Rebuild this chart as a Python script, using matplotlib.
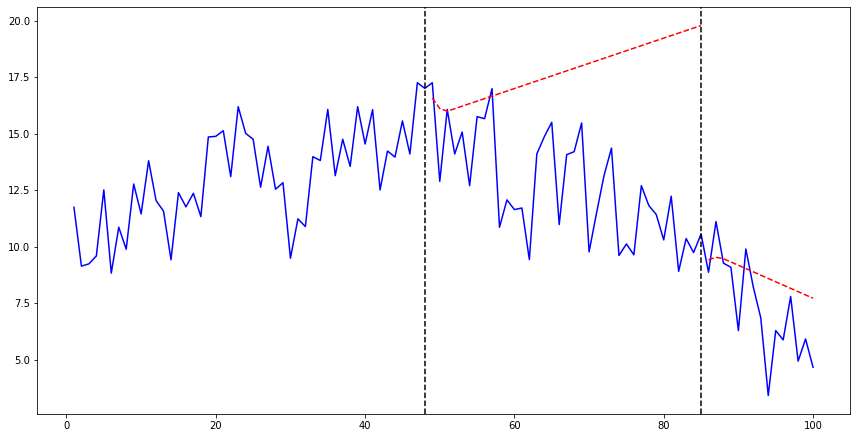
import matplotlib
matplotlib.use('Agg')
import matplotlib.pyplot as plt
from matplotlib.ticker import MultipleLocator

# Series values
x = list(range(1, 101))
y = [11.75, 9.15, 9.25, 9.60, 12.52, 8.84, 10.87, 9.90, 12.78, 11.46,
     13.81, 12.05, 11.58, 9.43, 12.40, 11.77, 12.37, 11.34, 14.86, 14.89,
     15.14, 13.11, 16.20, 15.02, 14.76, 12.64, 14.45, 12.55, 12.84, 9.50,
     11.24, 10.90, 13.99, 13.82, 16.08, 13.15, 14.76, 13.56, 16.20, 14.55,
     16.07, 12.52, 14.24, 13.97, 15.57, 14.11, 17.26, 17.01, 17.26, 12.90,
     16.08, 14.11, 15.08, 12.71, 15.76, 15.67, 17.00, 10.87, 12.08, 11.65,
     11.72, 9.44, 14.11, 14.87, 15.51, 10.99, 14.08, 14.21, 15.48, 9.78,
     11.50, 13.15, 14.37, 9.62, 10.13, 9.65, 12.71, 11.83, 11.43, 10.31,
     12.24, 8.92, 10.37, 9.75, 10.57, 8.88, 11.12, 9.28, 9.10, 6.30,
     9.91, 8.22, 6.86, 3.43, 6.30, 5.89, 7.81, 4.95, 5.93, 4.68]

# Breakpoints (vertical markers)
breaks = [48, 85]

# Trend segments (red dashed)
trend1_x = [49, 50, 51, 85]
trend1_y = [16.58, 16.12, 16.00, 19.79]
trend2_x = [86, 87, 88, 100]
trend2_y = [9.43, 9.54, 9.48, 7.73]

fig = plt.figure(figsize=(856 / 72, 438 / 72), dpi=72)
ax = fig.add_axes([37 / 856, 1 - 414 / 438, 813 / 856, 407 / 438])

ax.plot(x, y, color='blue')
ax.plot(trend1_x, trend1_y, 'r--')
ax.plot(trend2_x, trend2_y, 'r--')
for b in breaks:
    ax.axvline(b, color='k', linestyle='--')

ax.yaxis.set_major_locator(MultipleLocator(2.5))

plt.savefig('out.png', dpi=72)
plt.close()
